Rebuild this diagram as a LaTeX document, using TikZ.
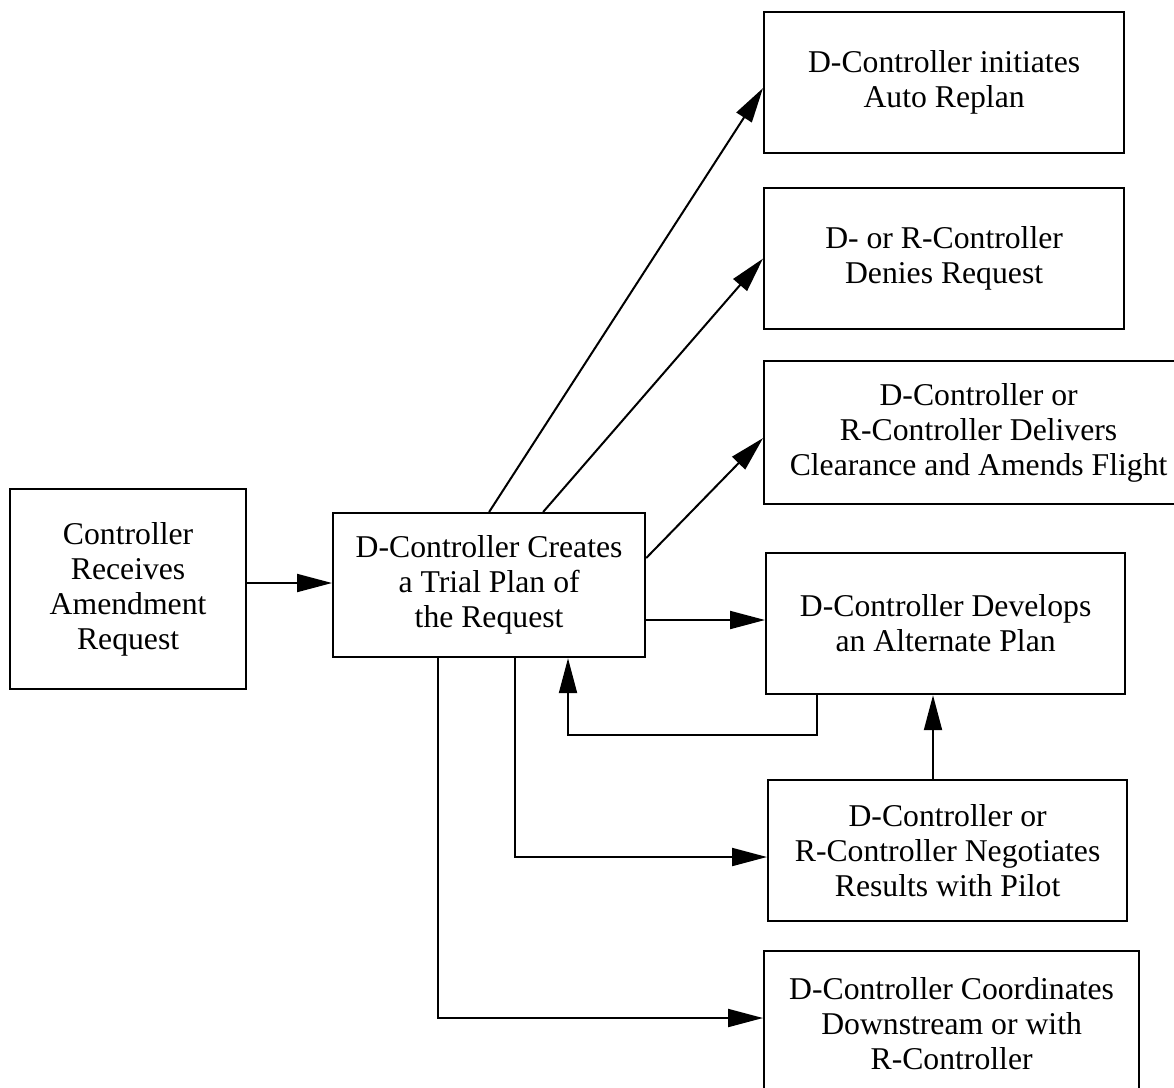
\documentclass[tikz,border=0pt]{standalone}
\usepackage{fontspec}
\setmainfont{Liberation Serif}
\usetikzlibrary{arrows.meta}
\begin{document}
\begin{tikzpicture}[x=1pt,y=-1pt,
  box/.style={draw, line width=2.2pt, rectangle, anchor=north west, align=center,
    inner sep=0pt, font=\fontsize{31.7}{35}\selectfont},
  arr/.style={line width=2pt, -{Triangle[length=35pt,width=18pt]}}]
\useasboundingbox (0,0) rectangle (1174,1087);

% process boxes
\node[box, minimum width=236pt, minimum height=200pt] (recv) at (9,488)
  {Controller\\Receives\\Amendment\\Request};
\node[box, minimum width=312pt, minimum height=144pt] (trial) at (332,512)
  {D-Controller Creates\\a Trial Plan of\\the Request};
\node[box, minimum width=360pt, minimum height=141pt] (auto) at (763,11)
  {D-Controller initiates\\Auto Replan};
\node[box, minimum width=360pt, minimum height=141pt] (deny) at (763,187)
  {D- or R-Controller\\Denies Request};
\node[box, minimum width=429pt, minimum height=143pt] (deliver) at (763,360)
  {D-Controller or\\R-Controller Delivers\\Clearance and Amends Flight};
\node[box, minimum width=359pt, minimum height=141pt] (alt) at (765,552)
  {D-Controller Develops\\an Alternate Plan};
\node[box, minimum width=359pt, minimum height=141pt] (nego) at (767,779)
  {D-Controller or\\R-Controller Negotiates\\Results with Pilot};
\node[box, minimum width=375pt, minimum height=145pt] (coord) at (763,950)
  {D-Controller Coordinates\\Downstream or with\\R-Controller};

% helper points for connector routing
\coordinate (abrow) at (0,583);
\coordinate (delrow) at (0,558);
\coordinate (altrow) at (0,620);
\coordinate (fbdrop) at (817,735);
\coordinate (fbcorner) at (568,735);
\coordinate (upcol) at (933,0);
\coordinate (negrow) at (515,857);
\coordinate (coordrow) at (438,1018);

% connectors
\draw[arr] (recv.east |- abrow) -- (trial.west |- abrow);
\draw[arr] (trial.north) -- ([yshift=-5.5pt]auto.west);
\draw[arr] ([xshift=54pt]trial.north) -- (deny.west);
\draw[arr] (trial.east |- delrow) -- ([yshift=-5.5pt]deliver.west);
\draw[arr] (trial.east |- altrow) -- (alt.west |- altrow);
\draw[arr] (alt.south -| fbdrop) |- (fbcorner) -- (trial.south -| fbcorner);
\draw[arr] (nego.north -| upcol) -- (alt.south -| upcol);
\draw[arr] (trial.south -| negrow) |- (nego.west |- negrow);
\draw[arr] (trial.south -| coordrow) |- (coord.west |- coordrow);
\end{tikzpicture}
\end{document}
